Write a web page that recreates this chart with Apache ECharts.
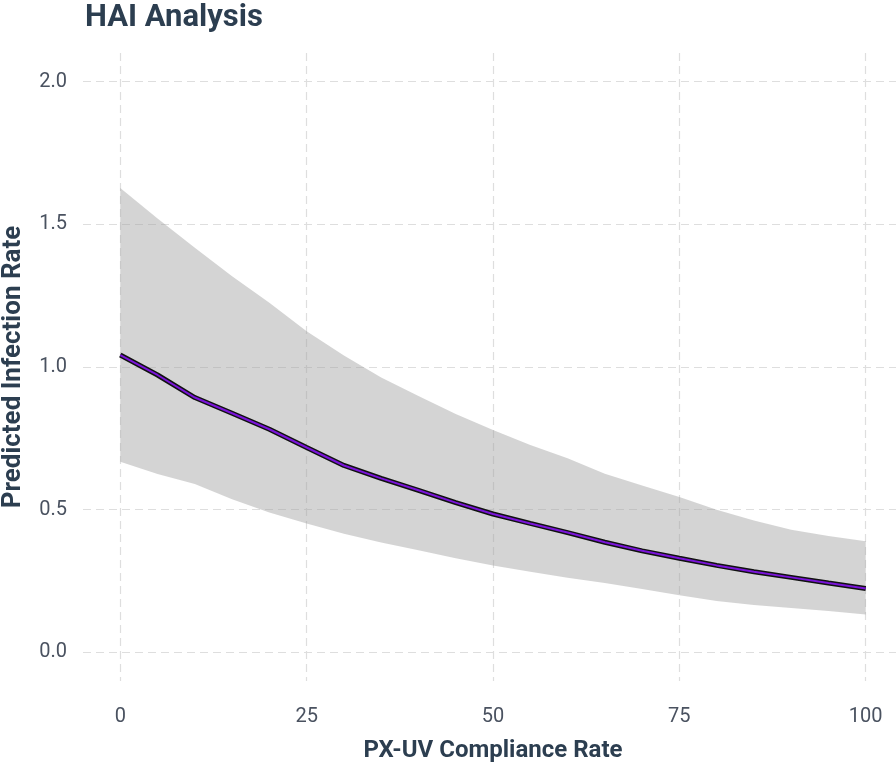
<!DOCTYPE html>
<html>
<head>
<meta charset="utf-8">
<script src="https://cdn.jsdelivr.net/npm/echarts@6/dist/echarts.min.js"></script>
<style>
html,body{margin:0;padding:0;background:#fff;}
#chart{width:896px;height:769px;}
</style>
</head>
<body>
<div id="chart"></div>
<script>
// Data
var compliance = [0, 5, 10, 15, 20, 25, 30, 35, 40, 45, 50, 55, 60, 65, 70, 75, 80, 85, 90, 95, 100];
var predicted  = [1.042, 0.972, 0.893, 0.838, 0.782, 0.718, 0.655, 0.610, 0.568, 0.525, 0.485, 0.452, 0.420, 0.386, 0.356, 0.330, 0.305, 0.283, 0.263, 0.243, 0.224];
var upperCI    = [1.627, 1.520, 1.418, 1.318, 1.225, 1.125, 1.040, 0.963, 0.898, 0.835, 0.779, 0.727, 0.680, 0.626, 0.585, 0.545, 0.500, 0.462, 0.430, 0.408, 0.390];
var lowerCI    = [0.668, 0.625, 0.590, 0.537, 0.490, 0.452, 0.416, 0.385, 0.358, 0.330, 0.305, 0.283, 0.262, 0.243, 0.222, 0.200, 0.180, 0.166, 0.156, 0.145, 0.133];
var xTicks = [0, 25, 50, 75, 100];
var yTicks = [0, 0.5, 1.0, 1.5, 2.0];

var pairs = function (ys) { return compliance.map(function (x, i) { return [x, ys[i]]; }); };

var chart = echarts.init(document.getElementById('chart'), null, {renderer: 'canvas'});
var gridLine = {show: true, lineStyle: {color: '#dedede', width: 1.2, type: [8, 5]}};
chart.setOption({
  animation: false,
  backgroundColor: '#ffffff',
  title: {
    text: 'HAI Analysis', left: 80, top: -2,
    textStyle: {fontFamily: 'Roboto', fontWeight: 'bold', fontSize: 31, color: '#2c3e50'}
  },
  grid: {left: 83, right: -7, top: 53, bottom: 88, containLabel: false, outerBoundsMode: 'none'},
  xAxis: {
    type: 'value', min: -5, max: 105,
    name: 'PX-UV Compliance Rate', nameLocation: 'middle', nameGap: 58,
    nameTextStyle: {fontFamily: 'Roboto', fontWeight: 'bold', fontSize: 24, color: '#2c3e50'},
    axisLine: {show: false},
    axisTick: {show: false, customValues: xTicks},
    axisLabel: {customValues: xTicks, margin: 26, fontFamily: 'Roboto', fontSize: 20, color: '#4a5260'},
    splitLine: gridLine
  },
  yAxis: {
    type: 'value', min: -0.1, max: 2.1,
    name: 'Predicted Infection Rate', nameLocation: 'middle', nameGap: 57, nameRotate: 90,
    nameTextStyle: {fontFamily: 'Roboto', fontWeight: 'bold', fontSize: 26, color: '#2c3e50'},
    axisLine: {show: false},
    axisTick: {show: false, customValues: yTicks},
    axisLabel: {customValues: yTicks, margin: 16, fontFamily: 'Roboto', fontSize: 20, color: '#4a5260',
      formatter: function (v) { return v.toFixed(1); }},
    splitLine: gridLine
  },
  series: [
    {type: 'custom', name: 'band', silent: true, data: [[0, 0]],
      renderItem: function (params, api) {
        var pts = [];
        for (var i = 0; i < compliance.length; i++) pts.push(api.coord([compliance[i], upperCI[i]]));
        for (var j = compliance.length - 1; j >= 0; j--) pts.push(api.coord([compliance[j], lowerCI[j]]));
        return {type: 'polygon', shape: {points: pts}, style: {fill: 'rgba(160,160,160,0.45)'}};
      }},
    {type: 'line', name: 'outline', data: pairs(predicted), symbol: 'none', silent: true,
      lineStyle: {color: '#111111', width: 5}},
    {type: 'line', name: 'fit', data: pairs(predicted), symbol: 'none', silent: true,
      lineStyle: {color: '#7a14d9', width: 2}}
  ]
});
</script>
</body>
</html>
